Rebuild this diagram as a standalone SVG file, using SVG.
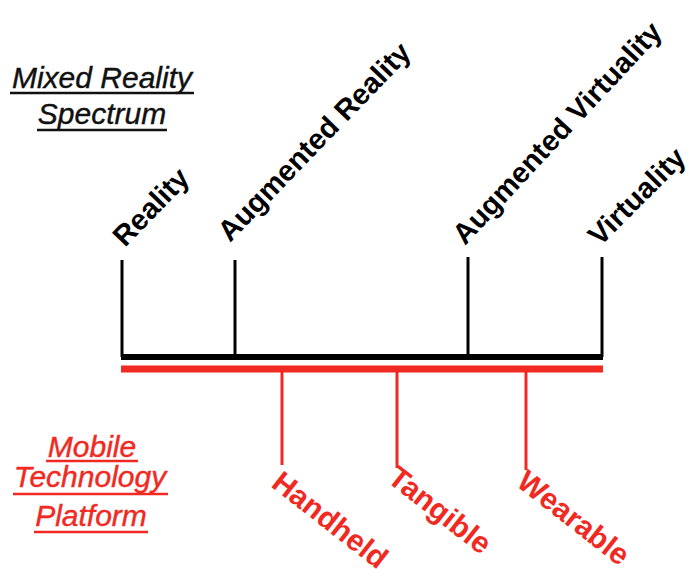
<svg xmlns="http://www.w3.org/2000/svg" width="689" height="569" viewBox="0 0 689 569">
<style>
.blk{font-family:"Liberation Sans",Arial,sans-serif;font-weight:bold;font-size:29px;fill:#000}
.red{font-family:"Liberation Sans",Arial,sans-serif;font-weight:bold;font-size:30px;fill:#f02a22}
.ttl{font-family:"Liberation Sans",Arial,sans-serif;font-style:italic;font-size:30px;text-anchor:middle;stroke-width:0.4}
.bl{stroke:#000;stroke-width:3;fill:none}
.rl{stroke:#f02a22;stroke-width:3;fill:none}
</style>
<rect width="689" height="569" fill="#fff"/>
<g id="title-mr">
<text class="ttl" x="102" y="88" fill="#111" stroke="#111">Mixed Reality</text>
<line x1="10" y1="93" x2="194" y2="93" stroke="#111" stroke-width="2.5"/>
<text class="ttl" x="102" y="124" fill="#111" stroke="#111">Spectrum</text>
<line x1="37" y1="130" x2="167" y2="130" stroke="#111" stroke-width="2.5"/>
</g>
<g id="title-mobile">
<text class="ttl" x="92" y="457" fill="#f02a22" stroke="#f02a22">Mobile</text>
<line x1="46" y1="461" x2="138" y2="461" stroke="#f02a22" stroke-width="2.5"/>
<text class="ttl" x="90" y="487" fill="#f02a22" stroke="#f02a22">Technology</text>
<line x1="13" y1="494" x2="168" y2="494" stroke="#f02a22" stroke-width="2.5"/>
<text class="ttl" x="91" y="526" fill="#f02a22" stroke="#f02a22">Platform</text>
<line x1="34" y1="532" x2="148" y2="532" stroke="#f02a22" stroke-width="2.5"/>
</g>
<g id="connectors">
<line x1="121" y1="357" x2="603" y2="357" stroke="#000" stroke-width="6"/>
<line x1="121" y1="369" x2="603" y2="369" stroke="#f02a22" stroke-width="7"/>
<line class="bl" x1="122" y1="260" x2="122" y2="357"/>
<line class="bl" x1="235" y1="260" x2="235" y2="357"/>
<line class="bl" x1="468" y1="257" x2="468" y2="357"/>
<line class="bl" x1="602" y1="257" x2="602" y2="357"/>
<line class="rl" x1="282" y1="369" x2="282" y2="465"/>
<line class="rl" x1="397" y1="369" x2="397" y2="468"/>
<line class="rl" x1="526" y1="369" x2="526" y2="470"/>
</g>
<g id="reality"><text class="blk" transform="translate(125,248) rotate(-46)">Reality</text></g>
<g id="augmented-reality"><text class="blk" transform="translate(230,243) rotate(-46)">Augmented Reality</text></g>
<g id="augmented-virtuality"><text class="blk" transform="translate(465,246) rotate(-47)">Augmented Virtuality</text></g>
<g id="virtuality"><text class="blk" transform="translate(600,247) rotate(-45)">Virtuality</text></g>
<g id="handheld"><text class="red" transform="translate(270,486) rotate(38)">Handheld</text></g>
<g id="tangible"><text class="red" transform="translate(386,481) rotate(38)">Tangible</text></g>
<g id="wearable"><text class="red" transform="translate(515,485) rotate(38)">Wearable</text></g>
</svg>
